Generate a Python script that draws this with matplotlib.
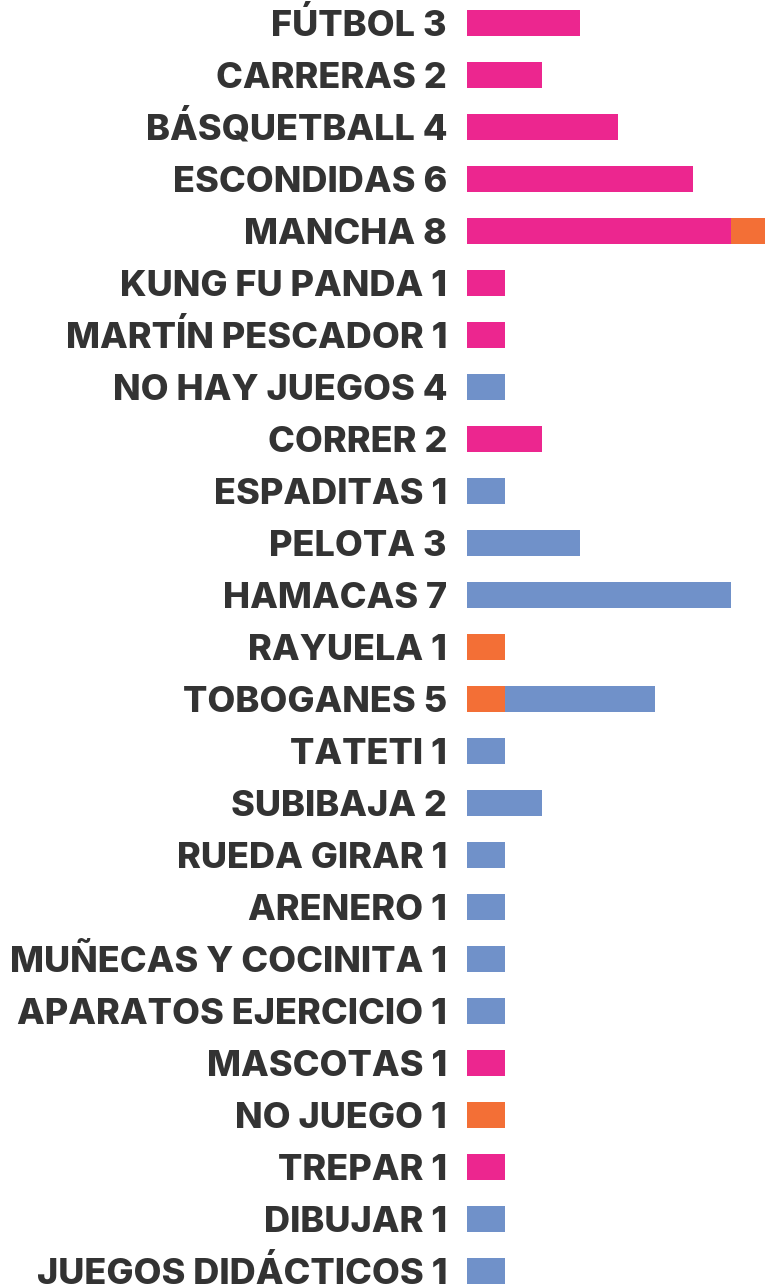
import matplotlib
matplotlib.use("Agg")
import matplotlib.pyplot as plt
import matplotlib.transforms as mtransforms
import numpy as np

# Games named by children, count per group
labels = [
    "FÚTBOL 3", "CARRERAS 2", "BÁSQUETBALL 4", "ESCONDIDAS 6", "MANCHA 8",
    "KUNG FU PANDA 1", "MARTÍN PESCADOR 1", "NO HAY JUEGOS 4", "CORRER 2",
    "ESPADITAS 1", "PELOTA 3", "HAMACAS 7", "RAYUELA 1", "TOBOGANES 5",
    "TATETI 1", "SUBIBAJA 2", "RUEDA GIRAR 1", "ARENERO 1",
    "MUÑECAS Y COCINITA 1", "APARATOS EJERCICIO 1", "MASCOTAS 1",
    "NO JUEGO 1", "TREPAR 1", "DIBUJAR 1", "JUEGOS DIDÁCTICOS 1",
]
pink = [3, 2, 4, 6, 7, 1, 1, 0, 2, 0, 0, 0, 0, 0, 0, 0, 0, 0, 0, 0, 1, 0, 1, 0, 0]
orange = [0, 0, 0, 0, 1, 0, 0, 0, 0, 0, 0, 0, 1, 1, 0, 0, 0, 0, 0, 0, 0, 1, 0, 0, 0]
blue = [0, 0, 0, 0, 0, 0, 0, 1, 0, 1, 3, 7, 0, 4, 1, 2, 1, 1, 1, 1, 0, 0, 0, 1, 1]

series = [(pink, "#EC268F"), (orange, "#F36F36"), (blue, "#7091C9")]

W, H = 765, 1288
fig = plt.figure(figsize=(W / 100, H / 100), dpi=100)
ax = fig.add_axes([467 / W, 0, 301.2 / W, 1])

y = np.arange(len(labels))
left = np.zeros(len(labels))
for vals, color in series:
    v = np.array(vals, dtype=float)
    ax.barh(y, v, left=left, height=0.5, color=color, linewidth=0)
    left += v

ax.set_xlim(0, 8)
ax.set_ylim((H - 23) / 52, -23 / 52)
ax.set_yticks([])
ax.set_xticks([])
for s in ax.spines.values():
    s.set_visible(False)

# Category labels: right-aligned left of the bars, caps centred on each bar
base = mtransforms.blended_transform_factory(ax.transAxes, ax.transData)
trans = mtransforms.offset_copy(base, fig=fig, x=-20, y=-12.5, units="dots")
for yi, lab in zip(y, labels):
    ax.text(0, yi, lab, transform=trans, ha="right", va="baseline",
            fontfamily="Inter", fontweight=800, fontsize=26,
            color="#333333", clip_on=False)

fig.savefig("out.png", dpi=100)
